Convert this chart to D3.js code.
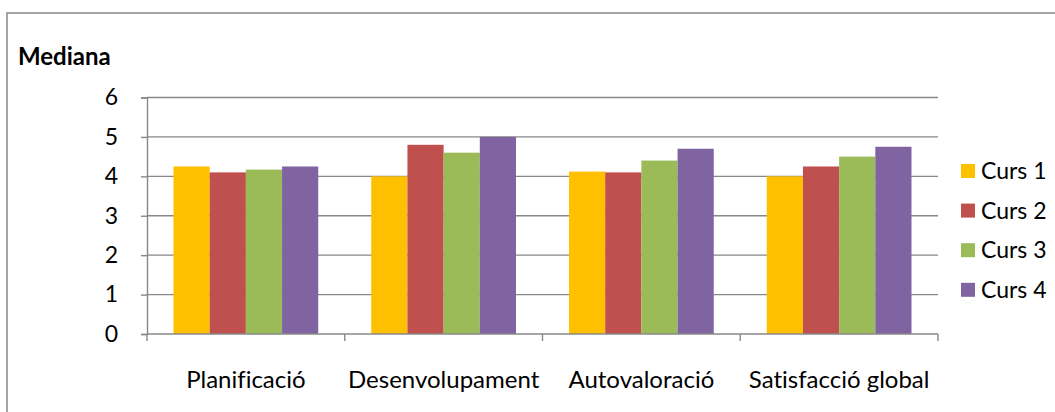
<!DOCTYPE html>
<html>
<head>
<meta charset="utf-8">
<script src="https://cdn.jsdelivr.net/npm/d3@7"></script>
<style>
  html, body { margin: 0; padding: 0; background: #fff; }
  svg { display: block; font-family: Lato, "Open Sans", sans-serif; font-variant-ligatures: none; }
</style>
</head>
<body>
<svg id="chart" width="1055" height="412"></svg>
<script>
// Median scores per dimension, one series per course year
const categories = ["Planificació", "Desenvolupament", "Autovaloració", "Satisfacció global"];
const seriesNames = ["Curs 1", "Curs 2", "Curs 3", "Curs 4"];
const curs1 = [4.25, 4.0, 4.12, 4.0];
const curs2 = [4.1, 4.8, 4.1, 4.25];
const curs3 = [4.17, 4.6, 4.4, 4.5];
const curs4 = [4.25, 5.0, 4.7, 4.75];
const yTicks = [0, 1, 2, 3, 4, 5, 6];
const colors = ["#FFC000", "#C0504D", "#9BBB59", "#8064A2"];

const seriesValues = [curs1, curs2, curs3, curs4];
const rows = categories.map((c, i) => ({
  category: c,
  values: seriesNames.map((s, j) => ({ series: s, value: seriesValues[j][i] }))
}));

const svg = d3.select("#chart");
const gridColor = "#888888";
const labelSize = 24;

// Outer chart frame
svg.append("rect")
  .attr("x", 7).attr("y", 13)
  .attr("width", 1100).attr("height", 450)
  .attr("fill", "none")
  .attr("stroke", gridColor)
  .attr("stroke-width", 1.5);

// Title
svg.append("text")
  .attr("x", 18).attr("y", 65)
  .attr("font-size", 24)
  .attr("font-weight", "bold")
  .attr("fill", "#000")
  .text("Mediana");

const plot = { left: 147, right: 938, top: 97.5, bottom: 334 };

const y = d3.scaleLinear().domain([0, 6]).range([plot.bottom, plot.top]);
const x = d3.scaleBand().domain(categories).range([plot.left, plot.right]).padding(0);
const gap = x.bandwidth() * 0.134;
const xInner = d3.scaleBand().domain(seriesNames)
  .range([gap, x.bandwidth() - gap]).padding(0);

// Horizontal gridlines
svg.append("g")
  .selectAll("line")
  .data(yTicks.filter(t => t > 0))
  .join("line")
  .attr("x1", plot.left).attr("x2", plot.right)
  .attr("y1", d => y(d)).attr("y2", d => y(d))
  .attr("stroke", gridColor)
  .attr("stroke-width", 1.4);

// Bars
const groups = svg.append("g")
  .selectAll("g")
  .data(rows)
  .join("g")
  .attr("transform", d => `translate(${x(d.category)},0)`);

groups.selectAll("rect")
  .data(d => d.values)
  .join("rect")
  .attr("x", d => xInner(d.series))
  .attr("width", xInner.bandwidth())
  .attr("y", d => y(d.value))
  .attr("height", d => y(0) - y(d.value))
  .attr("fill", (d, i) => colors[i]);

// Y axis
const yAxis = d3.axisLeft(y).tickValues(yTicks).tickSize(6).tickPadding(23).tickFormat(d3.format("d"));
const gy = svg.append("g")
  .attr("transform", `translate(${plot.left},0)`)
  .call(yAxis);
gy.select(".domain").attr("stroke", gridColor).attr("stroke-width", 1.4);
gy.selectAll(".tick line").attr("stroke", gridColor).attr("stroke-width", 1.4);
gy.selectAll(".tick text")
  .attr("font-size", 23)
  .attr("font-family", "Lato, sans-serif")
  .attr("fill", "#000");

// X axis: labels centred in each band, ticks on category boundaries
const xAxis = d3.axisBottom(x).tickSize(0).tickPadding(0);
const gx = svg.append("g")
  .attr("transform", `translate(0,${plot.bottom})`)
  .call(xAxis);
gx.select(".domain").remove();
gx.selectAll(".tick text")
  .attr("y", 54)
  .attr("dy", null)
  .attr("font-size", labelSize)
  .attr("font-family", "Lato, sans-serif")
  .attr("fill", "#000");

const boundaries = categories.map(c => x(c)).concat([x(categories[categories.length - 1]) + x.bandwidth()]);
svg.append("line")
  .attr("x1", plot.left).attr("x2", plot.right)
  .attr("y1", plot.bottom).attr("y2", plot.bottom)
  .attr("stroke", gridColor).attr("stroke-width", 1.4);
svg.append("g")
  .selectAll("line")
  .data(boundaries)
  .join("line")
  .attr("x1", d => d).attr("x2", d => d)
  .attr("y1", plot.bottom).attr("y2", plot.bottom + 7)
  .attr("stroke", gridColor).attr("stroke-width", 1.4);

// Legend
const legend = svg.append("g")
  .selectAll("g")
  .data(seriesNames)
  .join("g")
  .attr("transform", (d, i) => `translate(961,${171 + i * 39.6})`);
legend.append("rect")
  .attr("x", 0).attr("y", -7)
  .attr("width", 14).attr("height", 14)
  .attr("fill", (d, i) => colors[i]);
legend.append("text")
  .attr("x", 20).attr("y", 0)
  .attr("dy", "0.36em")
  .attr("font-size", 23)
  .attr("fill", "#000")
  .text(d => d);
</script>
</body>
</html>
